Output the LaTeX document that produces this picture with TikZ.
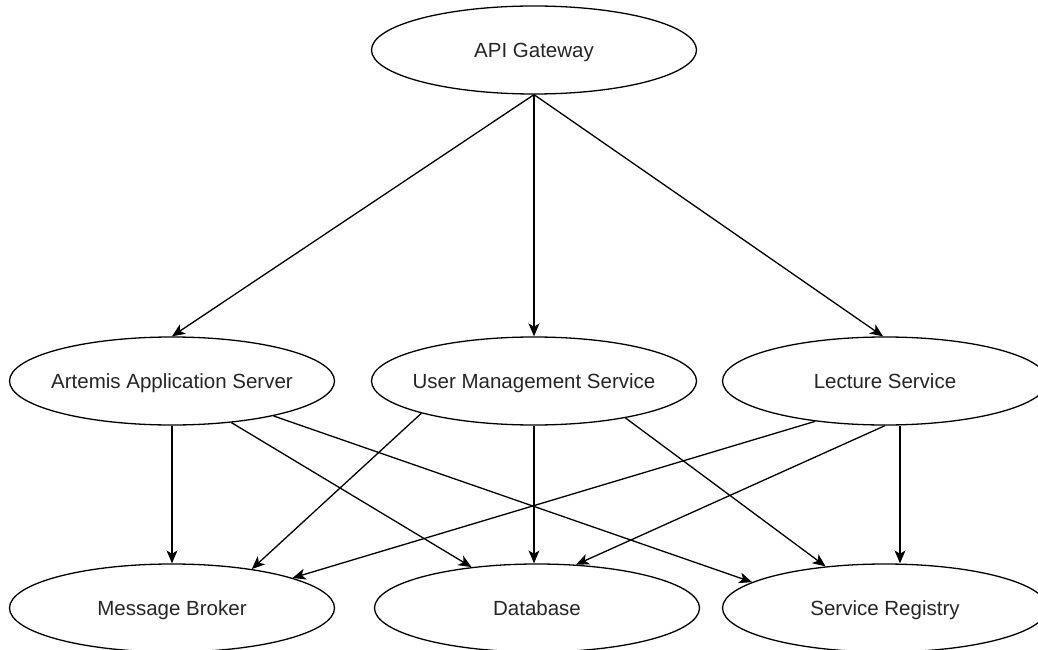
\documentclass[tikz,border=0pt]{standalone}
\usepackage{fontspec}
\setmainfont{Liberation Sans}
\usetikzlibrary{arrows.meta,shapes.geometric}
\begin{document}
\begin{tikzpicture}[x=1pt,y=1pt,
  svc/.style={draw=black, line width=1.3pt, ellipse, minimum width=325pt,
    minimum height=88pt, inner sep=0pt, fill=white,
    text height=14.7pt, text depth=0pt,
    font=\fontsize{20.5}{24}\selectfont, text=black!85},
  link/.style={draw=black, line width=1.3pt,
    -{Stealth[length=13pt, width=11pt, inset=3.5pt]}}]
\useasboundingbox (0,0) rectangle (1038,649);
\fill[white] (0,0) rectangle (1038,649);

% services (labels in zero-width boxes so every ellipse keeps the same size)
\node[svc] (api) at (534,599) {\makebox[0pt]{API Gateway}};
\node[svc] (art) at (172,268) {\makebox[0pt]{Artemis Application Server}};
\node[svc] (ums) at (534,268) {\makebox[0pt]{User Management Service}};
\node[svc] (lec) at (885,268) {\makebox[0pt]{Lecture Service}};
\node[svc] (mb)  at (172,41)  {\makebox[0pt]{Message Broker}};
\node[svc] (db)  at (537,41)  {\makebox[0pt]{Database}};
\node[svc] (sr)  at (885,41)  {\makebox[0pt]{Service Registry}};

% gateway routes
\draw[link] (api.south) -- (art.north);
\draw[link] (api.south) -- (ums.north);
\draw[link] (api.south) -- ([xshift=-2pt]lec.north);

% dependencies of the application server
\draw[link] (art.south) -- (mb.north);
\draw[link] (art.-35) -- (db.148.5);
\draw[link] (art.-19.6) -- (sr.169.4);

% dependencies of the user management service
\draw[link] (ums.196) -- (mb.26.6);
\draw[link] (ums.south) -- ([xshift=-3pt]db.north);
\draw[link] (ums.-22.7) -- (sr.145.3);

% dependencies of the lecture service
\draw[link] (lec.210.3) -- (mb.14.7);
\draw[link] (lec.south) -- (db.48.4);
\draw[link] ([xshift=15pt]lec.south) -- ([xshift=15pt]sr.north);
\end{tikzpicture}
\end{document}
